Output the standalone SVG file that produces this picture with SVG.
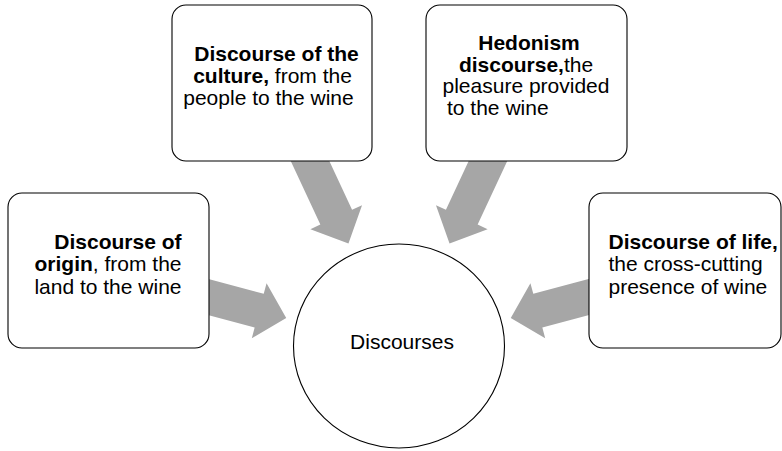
<svg xmlns="http://www.w3.org/2000/svg" width="782" height="451" viewBox="0 0 782 451">
<style>
.arrow{fill:#a6a6a6;stroke:none}
.box{fill:#ffffff;stroke:#000000;stroke-width:1.1}
.circ{fill:#ffffff;stroke:#000000;stroke-width:1.1}
text{font-family:"Liberation Sans",Arial,Helvetica,sans-serif;font-size:21px;fill:#000000}
.b{font-weight:bold}
</style>
<rect width="782" height="451" fill="#ffffff"/>
<g id="connectors">
<polygon class="arrow" transform="translate(208,297) rotate(15)" points="-10,-17.5 53,-17.5 53,-28.5 81,0 53,28.5 53,17.5 -10,17.5"/>
<polygon class="arrow" transform="translate(589,297) rotate(165)" points="-10,-17.5 53,-17.5 53,-28.5 81,0 53,28.5 53,17.5 -10,17.5"/>
<polygon class="arrow" transform="translate(310,161) rotate(65)" points="-10,-17.5 62,-17.5 62,-28.5 91,0 62,28.5 62,17.5 -10,17.5"/>
<polygon class="arrow" transform="translate(488,161) rotate(115)" points="-10,-17.5 62,-17.5 62,-28.5 91,0 62,28.5 62,17.5 -10,17.5"/>
</g>
<g id="node-center">
<ellipse class="circ" cx="399" cy="346" rx="105.5" ry="102"/>
<text x="402" y="349" text-anchor="middle">Discourses</text>
</g>
<g id="node-origin">
<rect class="box" x="8" y="193" width="201" height="155" rx="14"/>
<text x="181.5" y="248.5" text-anchor="end" class="b">Discourse of</text>
<text x="181.5" y="271" text-anchor="end"><tspan class="b">origin</tspan>, from the</text>
<text x="181.5" y="293.5" text-anchor="end">land to the wine</text>
</g>
<g id="node-culture">
<rect class="box" x="172" y="5" width="200" height="156" rx="14"/>
<text x="276.5" y="61" text-anchor="middle" class="b">Discourse of the</text>
<text x="272.5" y="82.8" text-anchor="middle"><tspan class="b">culture,</tspan> from the</text>
<text x="268.5" y="104.6" text-anchor="middle">people to the wine</text>
</g>
<g id="node-hedonism">
<rect class="box" x="426" y="5" width="201" height="156" rx="14"/>
<text x="529" y="50" text-anchor="middle" class="b">Hedonism</text>
<text x="526" y="71.7" text-anchor="middle"><tspan class="b">discourse,</tspan>the</text>
<text x="526" y="93.4" text-anchor="middle">pleasure provided</text>
<text x="447" y="115.1">to the wine</text>
</g>
<g id="node-life">
<rect class="box" x="589" y="193" width="192" height="155" rx="14"/>
<text x="608.5" y="248.5" class="b">Discourse of life,</text>
<text x="608.5" y="271">the cross-cutting</text>
<text x="608.5" y="293.5">presence of wine</text>
</g>
</svg>
